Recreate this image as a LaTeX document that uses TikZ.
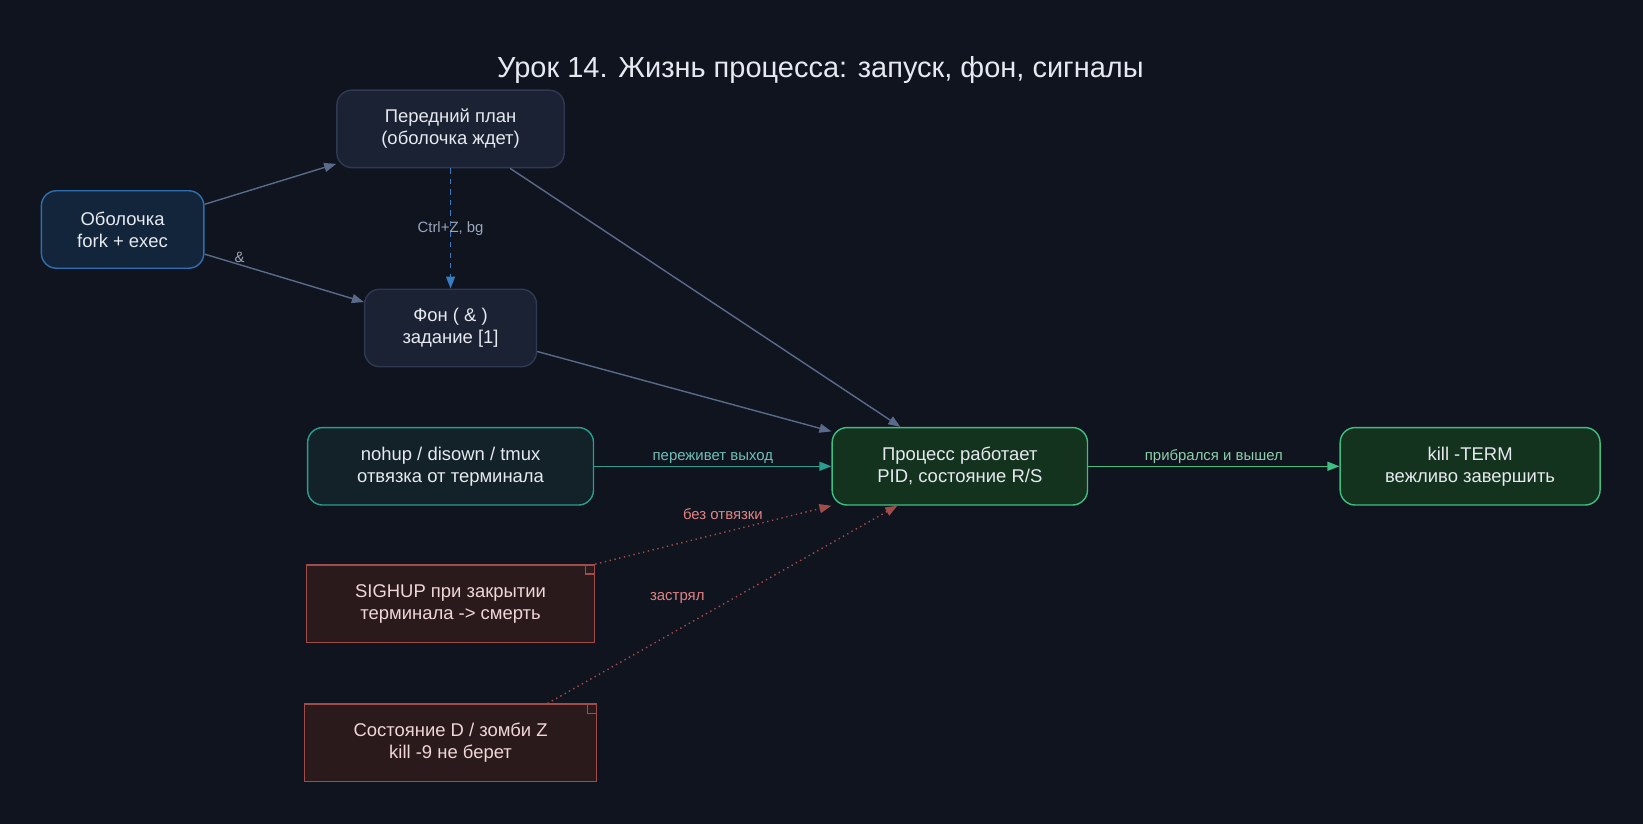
\documentclass[tikz,border=0pt]{standalone}
\usepackage{fontspec}
\setmainfont{Liberation Sans}
\usetikzlibrary{arrows.meta,positioning}
\definecolor{bgcol}{HTML}{0F141F}
\definecolor{boxfill}{HTML}{1B2233}
\definecolor{boxline}{HTML}{2E3A52}
\definecolor{shellfill}{HTML}{13253A}
\definecolor{shellline}{HTML}{2F6FB0}
\definecolor{runfill}{HTML}{14331F}
\definecolor{runline}{HTML}{3FBF7F}
\definecolor{detfill}{HTML}{132228}
\definecolor{detline}{HTML}{2A9D8F}
\definecolor{notefill}{HTML}{2A1A1C}
\definecolor{noteline}{HTML}{A04C4A}
\definecolor{txt}{HTML}{E6E9EF}
\definecolor{notetxt}{HTML}{F0D6D6}
\definecolor{edgecol}{HTML}{5A6A8A}
\definecolor{dashcol}{HTML}{3A7CC4}
\definecolor{lblgrey}{HTML}{9AA6BC}
\definecolor{lblteal}{HTML}{6FC0B8}
\definecolor{lblred}{HTML}{E08484}
\definecolor{lblgreen}{HTML}{8FD0A8}
\tikzset{
  box/.style={draw=boxline, fill=boxfill, rounded corners=0.3cm, line width=0.8pt,
    text=txt, align=center, font=\fontsize{10.5}{12.5}\selectfont,
    minimum height=1.55cm, inner sep=2pt},
  notebox/.style={box, rounded corners=0pt, draw=noteline, fill=notefill, text=notetxt},
  conn/.style={draw=edgecol, line width=0.8pt, -{Triangle[length=0.24cm,width=0.18cm]}},
  lbl/.style={font=\fontsize{8.5}{10}\selectfont, inner sep=1pt}
}
\begin{document}
\begin{tikzpicture}[x=0.02096cm, y=-0.02096cm]
  % background and frame
  \fill[bgcol] (0,0) rectangle (1568,786);
  \useasboundingbox (0,0) rectangle (1568,786);

  % title
  \node[text=txt, font=\fontsize{16.5}{19}\selectfont] (title) at (783,67)
    {Урок 14. Жизнь процесса: запуск, фон, сигналы};

  % nodes
  \node[box, draw=shellline, fill=shellfill, minimum width=3.25cm] (shell) at (117,219)
    {Оболочка\\fork + exec};
  \node[box, minimum width=4.55cm] (fg) at (430,123) {Передний план\\(оболочка ждет)};
  \node[box, minimum width=3.44cm] (bg) at (430,313) {Фон ( \& )\\задание [1]};
  \node[box, draw=detline, fill=detfill, minimum width=5.72cm] (detach) at (430,445)
    {nohup / disown / tmux\\отвязка от терминала};
  \node[box, draw=runline, fill=runfill, minimum width=5.11cm] (run) at (916,445)
    {Процесс работает\\PID, состояние R/S};
  \node[box, draw=runline, fill=runfill, minimum width=5.2cm] (term) at (1403,445)
    {kill -TERM\\вежливо завершить};
  \node[notebox, minimum width=5.76cm] (hup) at (430,576)
    {SIGHUP при закрытии\\терминала -> смерть};
  \node[notebox, minimum width=5.85cm] (stuck) at (430,709)
    {Состояние D / зомби Z\\kill -9 не берет};

  % folded corners of the notes
  \foreach \n in {hup,stuck}
    \draw[noteline, line width=0.8pt]
      ([xshift=-0.2cm]\n.north east) -- ([xshift=-0.2cm,yshift=-0.2cm]\n.north east)
      -- ([yshift=-0.2cm]\n.north east);

  % connectors
  \draw[conn] (shell) -- (fg);
  \draw[conn] (shell) -- node[lbl, text=lblgrey, pos=0.22, above] {\&} (bg);
  \draw[conn, draw=dashcol, dashed, -{Triangle[length=0.24cm,width=0.18cm]}]
    (fg) -- node[lbl, text=lblgrey] {Ctrl+Z, bg} (bg);
  \draw[conn] (fg) -- (run);
  \draw[conn] (bg) -- (run);
  \draw[conn, draw=detline] (detach) -- node[lbl, text=lblteal, above] {переживет выход} (run);
  \draw[conn, draw=runline] (run) -- node[lbl, text=lblgreen, above] {прибрался и вышел} (term);
  \draw[conn, draw=noteline, dotted] (hup.north east) --
    node[lbl, text=lblred, pos=0.72, above left] {без отвязки} (run.south west);
  \draw[conn, draw=noteline, dotted] ([xshift=-1.0cm]stuck.north east) --
    node[lbl, text=lblred, pos=0.47, above left=4pt] {застрял} ([xshift=-1.25cm]run.south);
\end{tikzpicture}
\end{document}
